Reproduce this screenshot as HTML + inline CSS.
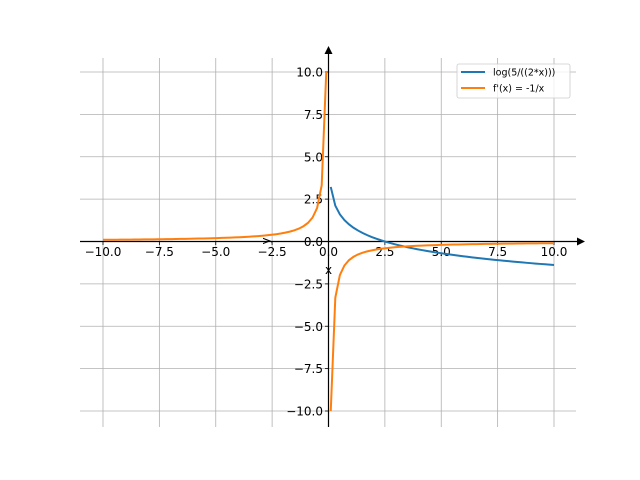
<!DOCTYPE html>
<html><head><style>body{margin:0;background:#fff}svg{display:block}text{font-family:"DejaVu Sans","Liberation Sans",sans-serif;font-size:10px;fill:#000}</style></head>
<body>
<svg id="s" width="640" height="480" xmlns="http://www.w3.org/2000/svg">
<g id="grid" stroke="#b0b0b0" stroke-width="0.8"></g>
<g id="labels"></g>
<line x1="80" y1="241.5" x2="580" y2="241.5" stroke="#000" stroke-width="1.2"/>
<polygon points="585,241.5 577,237.5 577,245.5" fill="#000"/>
<line x1="328.5" y1="427" x2="328.5" y2="52" stroke="#000" stroke-width="1.2"/>
<polygon points="328.5,46 324.5,54 332.5,54" fill="#000"/>
<path id="b" fill="none" stroke="#1f77b4" stroke-width="2"/>
<path id="o" fill="none" stroke="#ff7f0e" stroke-width="2"/>
<text x="328.5" y="274" text-anchor="middle" style="font-size:12px">x</text>
<text x="0" y="0" transform="translate(270,241) rotate(-90)" text-anchor="middle" style="font-size:12px">y</text>
<rect x="457" y="64" width="113" height="34" rx="2" fill="#fff" fill-opacity="0.8" stroke="#ccc" stroke-width="0.8"/>
<line x1="461" y1="72" x2="485" y2="72" stroke="#1f77b4" stroke-width="2"/>
<line x1="461" y1="88" x2="485" y2="88" stroke="#ff7f0e" stroke-width="2"/>
<text x="493" y="75.5" style="font-size:9.5px">log(5/((2*x)))</text>
<text x="493" y="91.5" style="font-size:9.5px">f'(x) = -1/x</text>
</svg>
<script>
var X=function(x){return 328.5+x*22.55},Y=function(y){return 241.5-y*16.95};
var g=document.getElementById('grid'),L=document.getElementById('labels'),ns='http://www.w3.org/2000/svg';
function el(p,t,a,txt){var e=document.createElementNS(ns,t);for(var k in a)e.setAttribute(k,a[k]);if(txt)e.textContent=txt;p.appendChild(e);}
for(var v=-10;v<=10;v+=2.5){
 el(g,'line',{x1:X(v),x2:X(v),y1:58,y2:427});
 el(g,'line',{x1:80,x2:576,y1:Y(v),y2:Y(v)});
 el(L,'line',{x1:X(v),x2:X(v),y1:241.5,y2:245,stroke:'#000','stroke-width':0.8});
 el(L,'line',{x1:325,x2:328.5,y1:Y(v),y2:Y(v),stroke:'#000','stroke-width':0.8});
 el(L,'text',{x:X(v),y:256,'text-anchor':'middle',style:'font-size:12px'},v.toFixed(1).replace('-','\u2212'));
 el(L,'text',{x:323,y:Y(v)+4.5,'text-anchor':'end',style:'font-size:12px'},v.toFixed(1).replace('-','\u2212'));
}
var b='',o1='',o2='';
for(var i=0;i<50;i++){var x=0.1+i*(9.9/49);b+=(i?'L':'M')+X(x).toFixed(2)+','+Y(Math.log(5/(2*x))).toFixed(2);
 o2+=(i?'L':'M')+X(x).toFixed(2)+','+Y(-1/x).toFixed(2);
 var xn=-10+i*(9.9/49);o1+=(i?'L':'M')+X(xn).toFixed(2)+','+Y(-1/xn).toFixed(2);}
document.getElementById('b').setAttribute('d',b);
document.getElementById('o').setAttribute('d',o1+o2);
</script>
</body></html>
